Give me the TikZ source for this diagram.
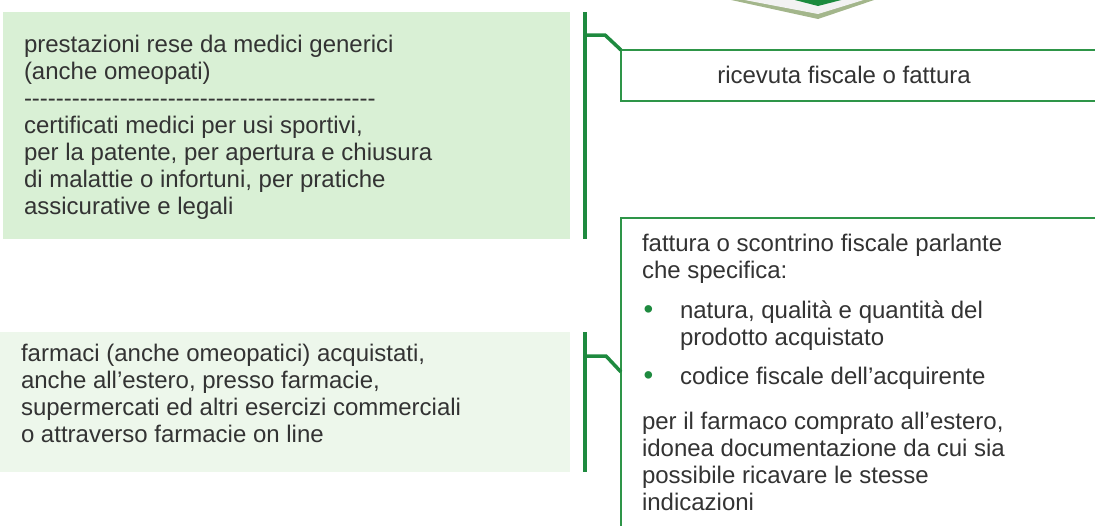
\documentclass[tikz,border=0pt]{standalone}
\usepackage{fontspec}
\usetikzlibrary{calc}
\newfontfamily\arialfont{Liberation Sans}
\definecolor{fillA}{HTML}{D9F0D5}
\definecolor{fillB}{HTML}{EDF7EB}
\definecolor{brgreen}{HTML}{1E8A3F}
\definecolor{boxgreen}{HTML}{2E9548}
\definecolor{olivec}{HTML}{A3B68B}
\definecolor{bandc}{HTML}{F2F2F2}
\definecolor{chevc}{HTML}{1B8A3D}
\definecolor{txtc}{HTML}{333333}
\begin{document}
\begin{tikzpicture}[x=1pt,y=-1pt,
  lbox/.style={anchor=north west,inner sep=0pt,outer sep=0pt,draw=none},
  rbox/.style={anchor=north west,inner sep=0pt,outer sep=0pt,draw=boxgreen,line width=1.8pt,fill=white},
  brk/.style={draw=brgreen,line width=3.5pt},
  txt/.style={inner sep=0pt,outer sep=0pt,text=txtc,font=\arialfont\fontsize{24}{27}\selectfont,align=left}]
\useasboundingbox (0,0) rectangle (1095,525);
\clip (0,0) rectangle (1095,525);
% chevron at the top
\fill[olivec] (722,-2) -- (818,19) -- (880,-2) -- cycle;
\fill[bandc] (734,-2) -- (818,14) -- (870,-2) -- cycle;
\fill[chevc] (787,-2) -- (818,6) -- (849,-2) -- cycle;
% left boxes
\node[lbox,fill=fillA,minimum width=567pt,minimum height=227pt] (med) at (3,12) {};
\node[lbox,fill=fillB,minimum width=570pt,minimum height=140pt] (farm) at (0,332) {};
% right boxes
\node[rbox,minimum width=520pt,minimum height=51pt] (ric) at (621,50) {};
\node[rbox,minimum width=520pt,minimum height=340pt] (fat) at (621,218) {};
% texts
\node[txt,anchor=north west] (medtxt) at (24,33.1) {\strut prestazioni rese da medici generici\\
(anche omeopati)\\
--------------------------------------------\\
certificati medici per usi sportivi,\\
per la patente, per apertura e chiusura\\
di malattie o infortuni, per pratiche\\
assicurative e legali};
\node[txt,anchor=north west] (farmtxt) at (21,342.1) {\strut farmaci (anche omeopatici) acquistati,\\
anche all’estero, presso farmacie,\\
supermercati ed altri esercizi commerciali\\
o attraverso farmacie on line};
\node[txt,anchor=base] (rictxt) at (844,83) {ricevuta fiscale o fattura};
\node[txt,anchor=north west] (fattxt) at (642,232.1) {\strut fattura o scontrino fiscale parlante\\
che specifica:\\[13pt]
\makebox[38pt][l]{\hspace*{1.5pt}\textcolor{brgreen}{\scalebox{1.15}{•}}}natura, qualità e quantità del\\
\hspace*{38pt}prodotto acquistato\\[12pt]
\makebox[38pt][l]{\hspace*{1.5pt}\textcolor{brgreen}{\scalebox{1.15}{•}}}codice fiscale dell’acquirente\\[18pt]
per il farmaco comprato all’estero,\\
idonea documentazione da cui sia\\
possibile ricavare le stesse\\
indicazioni};
% connectors (brackets)
\draw[brk] ($(med.north east)+(15,0)$) -- ($(med.south east)+(15,0)$);
\draw[brk,line join=miter] ($(med.north east)+(15,23)$) -- ($(med.north east)+(35,23)$) -- (ric.north west);
\draw[brk] ($(farm.north east)+(15,0)$) -- ($(farm.south east)+(15,0)$);
\draw[brk,line join=miter] ($(farm.north east)+(15,24)$) -- ($(farm.north east)+(36,24)$) -- ($(fat.north west)+(0,154)$);
\end{tikzpicture}
\end{document}
